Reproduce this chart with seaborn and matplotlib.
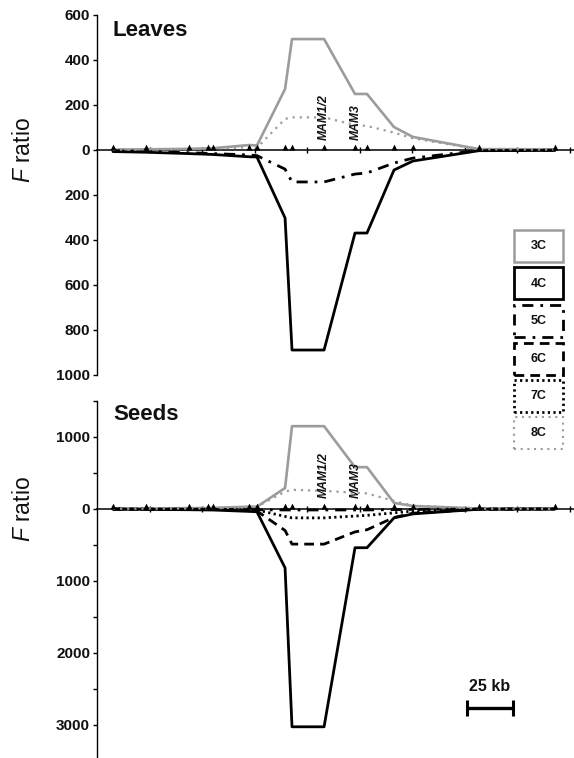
import numpy as np
import pandas as pd
import matplotlib
matplotlib.use("Agg")
import matplotlib.pyplot as plt
import seaborn as sns
from matplotlib.patches import Rectangle
from matplotlib.ticker import FuncFormatter, FixedLocator

sns.set_theme(style="white")
plt.rcParams['font.family'] = ['Liberation Sans', 'DejaVu Sans']
plt.rcParams['text.color'] = 'black'
plt.rcParams['mathtext.fontset'] = 'custom'
plt.rcParams['mathtext.it'] = 'Liberation Sans:italic'
plt.rcParams['mathtext.rm'] = 'Liberation Sans'

# ---------------- data ----------------
# marker (locus) positions along the chromosome segment, kb
positions_kb = [8.5, 26.1, 49.1, 59.2, 61.9, 81.1, 85.3, 100.3, 104.0, 121.1,
                137.6, 144.0, 158.4, 168.5, 203.7, 244.3]
series_names = ["3C", "4C", "5C", "6C", "7C", "8C"]
upward_series = ["3C", "8C"]          # plotted above the axis, others mirrored below

NA = np.nan
# Leaves F ratios (6C, 7C not visible in the leaves panel)
leaves_3c = [2, 3, 5, 7, 8, 22, 20, 271, 493, 493, 249, 249, 102, 58, 4, 3]
leaves_4c = [7, 10, 16, 19, 20, 30, 31, 302, 889, 889, 369, 369, 89, 49, 3, 2]
leaves_5c = [3, 6, 12, 15, 16, 22, 25, 85, 142, 142, 107, 102, 58, 36, 2, 1]
leaves_6c = [NA] * 16
leaves_7c = [NA] * 16
leaves_8c = [1, 2, 4, 5, 6, 12, 10, 138, 145, 145, 111, 107, 77, 52, 3, 2]

# Seeds F ratios
seeds_3c = [5, 5, 10, 12, 14, 30, 30, 290, 1150, 1150, 580, 580, 83, 40, 5, 3]
seeds_4c = [5, 7, 12, 15, 16, 35, 40, 820, 3030, 3030, 540, 540, 125, 70, 5, 3]
seeds_5c = [2, 3, 5, 6, 6, 10, 12, 15, 15, 15, 15, 15, 10, 8, 2, 1]
seeds_6c = [3, 4, 6, 8, 8, 15, 30, 300, 490, 490, 320, 290, 120, 60, 5, 2]
seeds_7c = [2, 3, 5, 6, 6, 10, 15, 105, 125, 125, 100, 90, 55, 30, 3, 2]
seeds_8c = [3, 3, 6, 8, 9, 20, 30, 240, 265, 250, 225, 215, 110, 45, 4, 2]

gene_labels = ["MAM1/2", "MAM3"]
gene_positions_kb = [121.1, 138.1]
scale_bar_kb = 25

leaves = dict(zip(series_names, [leaves_3c, leaves_4c, leaves_5c, leaves_6c, leaves_7c, leaves_8c]))
seeds = dict(zip(series_names, [seeds_3c, seeds_4c, seeds_5c, seeds_6c, seeds_7c, seeds_8c]))

GREY = "#9c9c9c"
styles = {
    "3C": dict(color=GREY, linestyle="-", linewidth=1.9),
    "4C": dict(color="black", linestyle="-", linewidth=2.0),
    "5C": dict(color="black", linestyle=(0, (4, 2.5, 1, 2.5)), linewidth=2.0),
    "6C": dict(color="black", linestyle=(0, (3.5, 2.2)), linewidth=2.0),
    "7C": dict(color="black", linestyle=(0, (0.8, 1.2)), linewidth=2.0),
    "8C": dict(color=GREY, linestyle=(0, (1, 2.2)), linewidth=1.6),
}


def long_df(d):
    rows = []
    for s in series_names:
        sign = 1 if s in upward_series else -1
        for p, v in zip(positions_kb, d[s]):
            rows.append(dict(pos=p, value=sign * v, series=s))
    return pd.DataFrame(rows)


W, H = 574, 758
fig = plt.figure(figsize=(W / 100, H / 100), dpi=100)
ax1 = fig.add_axes([97 / W, 1 - 375 / H, (W - 97) / W, 360 / H])
ax2 = fig.add_axes([97 / W, 1 - 757 / H, (W - 97) / W, 356 / H])

tri = [(-1, 0), (1, 0), (0, 2), (-1, 0)]
absfmt = FuncFormatter(lambda v, p: f"{abs(int(round(v)))}")

for ax, data in [(ax1, leaves), (ax2, seeds)]:
    df = long_df(data)
    for s in series_names:
        sub = df[(df.series == s)].dropna()
        if sub.empty:
            continue
        sns.lineplot(data=sub, x="pos", y="value", ax=ax,
                     legend=False, sort=False, estimator=None, zorder=3, **styles[s])
    sns.scatterplot(x=positions_kb, y=np.zeros(len(positions_kb)), ax=ax,
                    marker=tri, s=72, color="black", edgecolor="black",
                    linewidth=0, zorder=5, legend=False)
    for lab, gx in zip(gene_labels, gene_positions_kb):
        ax.annotate(lab, xy=(gx, 0), xytext=(0, 7.5), textcoords="offset points",
                    rotation=90, ha="center", va="bottom", fontsize=8.7,
                    fontweight="bold", fontstyle="italic", color="#111111", zorder=6)
    ax.set_xlim(0, (W - 97) / 1.875)
    ax.set_xlabel("")
    ax.set_ylabel("")
    for sp in ["top", "right"]:
        ax.spines[sp].set_visible(False)
    ax.spines["left"].set_color("black")
    ax.spines["left"].set_linewidth(1.0)
    ax.spines["bottom"].set_position(("data", 0))
    ax.spines["bottom"].set_color("black")
    ax.spines["bottom"].set_linewidth(1.1)
    ax.spines["bottom"].set_zorder(2)
    ax.set_xticks(np.arange(28, 253, 28))
    ax.tick_params(axis="x", direction="inout", length=4.5, width=1, colors="black",
                   labelbottom=False, bottom=True)
    ax.tick_params(axis="y", direction="out", length=3, width=1, colors="black",
                   pad=2, labelsize=11, left=True)
    ax.tick_params(axis="y", which="minor", direction="out", length=3, width=1,
                   colors="black", left=True)
    ax.yaxis.set_major_formatter(absfmt)
    ax.set_facecolor("none")

ax1.set_ylim(-1000, 600)
ax1.set_yticks(np.arange(-1000, 601, 200))
ax2.set_ylim(-3450, 1500)
ax2.set_yticks(np.arange(-3000, 1001, 1000))
ax2.yaxis.set_minor_locator(FixedLocator([-2500, -1500, -500, 500, 1500]))
for ax in (ax1, ax2):
    for t in ax.get_yticklabels():
        t.set_fontweight("bold")
        t.set_color("#111111")

# panel titles and y labels
fig.text(113 / W, 1 - 30 / H, "Leaves", ha="left", va="center", fontsize=16,
         fontweight="bold", color="#111111")
fig.text(113 / W, 1 - 415 / H, "Seeds", ha="left", va="center", fontsize=16,
         fontweight="bold", color="#111111")
fig.text(24 / W, 1 - 150 / H, r"$\mathit{F}$ ratio", rotation=90, ha="center",
         va="center", fontsize=16.5, color="#111111")
fig.text(24 / W, 1 - 509 / H, r"$\mathit{F}$ ratio", rotation=90, ha="center",
         va="center", fontsize=16.5, color="#111111")

# legend boxes
box_x, box_w, box_h = 514, 49, 32
for i, s in enumerate(series_names):
    top = 230 + i * 37.5
    st = styles[s]
    lw = 2.0 if s != "8C" else 1.5
    if s == "3C":
        lw = 1.8
    rect = Rectangle((box_x / W, 1 - (top + box_h) / H), box_w / W, box_h / H,
                     transform=fig.transFigure, fill=False, edgecolor=st["color"],
                     linestyle=st["linestyle"], linewidth=lw)
    fig.add_artist(rect)
    fig.text((box_x + box_w / 2) / W, 1 - (top + box_h / 2) / H, s, ha="center", va="center",
             fontsize=9, fontweight="bold", color="#111111")

# scale bar
bar_center = (490 - 97) / 1.875
ax2.errorbar(bar_center, -2768, xerr=scale_bar_kb / 2, fmt="none", ecolor="black",
             elinewidth=2.4, capsize=5.5, capthick=2.2)
ax2.text(bar_center, -2476, f"{scale_bar_kb} kb", ha="center", va="center",
         fontsize=11.5, fontweight="bold", color="#111111")

fig.savefig("out.png", dpi=100)
